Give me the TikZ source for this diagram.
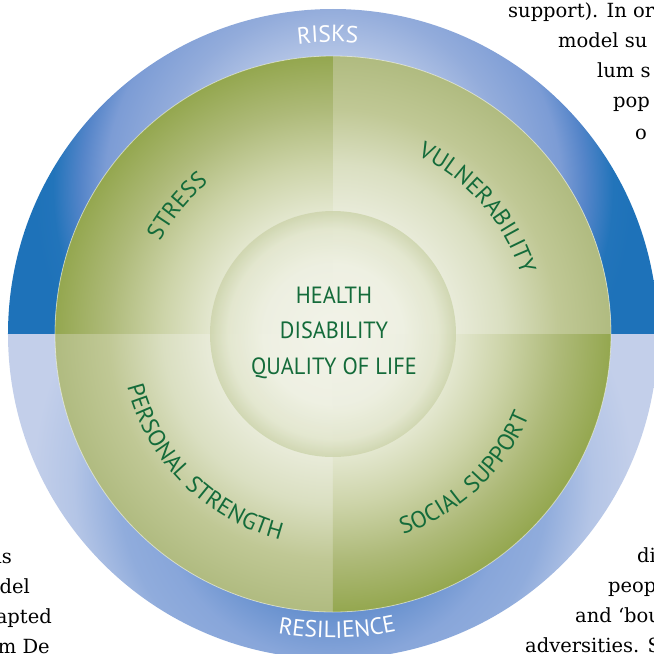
\documentclass[tikz,border=0pt]{standalone}
\usepackage{fontspec}
\setmainfont{DejaVu Serif}
\newfontfamily\lab{PT Sans}
\newfontfamily\labnarrow[FakeStretch=0.95]{PT Sans}
\usetikzlibrary{decorations.text}

% palette
\definecolor{labgreen}{HTML}{146B3A}
\definecolor{rA}{HTML}{B4C5E6}
\definecolor{rB}{HTML}{93ACDB}
\definecolor{rC}{HTML}{7C9CD5}
\definecolor{rD}{HTML}{5585C9}
\definecolor{rE}{HTML}{2274BA}
\definecolor{rF}{HTML}{1E72B9}
\definecolor{sA}{HTML}{5F8BCC}
\definecolor{sB}{HTML}{6690CE}
\definecolor{sC}{HTML}{88A6DA}
\definecolor{sD}{HTML}{90ACDC}
\definecolor{sE}{HTML}{B4C5E6}
\definecolor{sF}{HTML}{C3CFEA}
\definecolor{gC}{HTML}{F2F3E8}
\definecolor{dA}{HTML}{E9ECD9}
\definecolor{dB}{HTML}{CDD4A9}
\definecolor{dC}{HTML}{AEBA79}
\definecolor{dD}{HTML}{94A74F}
\definecolor{lA}{HTML}{ECEEDF}
\definecolor{lB}{HTML}{DADFC1}
\definecolor{lC}{HTML}{C0C895}
\definecolor{lD}{HTML}{B0BB80}
\definecolor{iA}{HTML}{F3F4EA}
\definecolor{iB}{HTML}{EEF0E2}
\definecolor{iC}{HTML}{E2E6CD}
\definecolor{iD}{HTML}{CDD4AC}
\definecolor{gbase}{HTML}{C8D0A0}

% ring shadings (upper: risks, lower: resilience)
\pgfdeclareradialshading{risksring}{\pgfpointorigin}{%
  color(0pt)=(rA); color(132pt)=(rA); color(180pt)=(rB); color(228pt)=(rC);
  color(252pt)=(rD); color(280pt)=(rE); color(300pt)=(rF); color(420pt)=(rF)}
\pgfdeclareradialshading{resring}{\pgfpointorigin}{%
  color(0pt)=(sA); color(132pt)=(sB); color(180pt)=(sC); color(215pt)=(sD);
  color(260pt)=(sE); color(300pt)=(sF); color(420pt)=(sF)}
% quadrant shadings
\pgfdeclareradialshading{darkq}{\pgfpointorigin}{%
  color(0pt)=(gC); color(110pt)=(dA); color(170pt)=(dB); color(225pt)=(dC);
  color(278pt)=(dD); color(300pt)=(dD)}
\pgfdeclareradialshading{lightq}{\pgfpointorigin}{%
  color(0pt)=(gC); color(110pt)=(lA); color(170pt)=(lB); color(225pt)=(lC);
  color(278pt)=(lD); color(300pt)=(lD)}
% central disc
\pgfdeclareradialshading{hub}{\pgfpointorigin}{%
  color(0pt)=(iA); color(70pt)=(iB); color(105pt)=(iC); color(123pt)=(iD);
  color(130pt)=(iD)}

\newcommand\lblstyle{\lab\fontsize{23.5}{28}\selectfont\color{labgreen}}
\newcommand\ringstyle{\lab\fontsize{23.5}{28}\selectfont\color{white}}

\tikzset{
  centertext/.style={anchor=base, inner sep=0pt, text=labgreen,
    font=\labnarrow\fontsize{23.5}{28}\selectfont},
  pagetext/.style={inner sep=0pt, text=black,
    font=\fontsize{19.5}{22}\selectfont},
  arclabel/.style={decorate, decoration={text along path, text align=center,
    text={#1}}}
}

\begin{document}
\begin{tikzpicture}[x=1pt,y=1pt]
\useasboundingbox (-333,-320) rectangle (321,334);
\clip (-333,-320) rectangle (321,334);

% outer ring, upper half
\begin{scope}
  \clip (325,0) arc[start angle=0,end angle=180,radius=325] -- cycle;
  \pgftext[at=\pgfpoint{0pt}{146pt}]{\pgfuseshading{risksring}}
\end{scope}
% outer ring, lower half
\begin{scope}
  \clip (-325,0) arc[start angle=180,end angle=360,radius=325] -- cycle;
  \pgftext[at=\pgfpoint{0pt}{-146pt}]{\pgfuseshading{resring}}
\end{scope}

% green disc and its four quadrants
\fill[gbase] (0,0) circle[radius=278];
\foreach \a/\s in {0/lightq,90/darkq,180/lightq,270/darkq}{
  \begin{scope}
    \clip (0,0) -- (\a:278) arc[start angle=\a,end angle=\a+90,radius=278] -- cycle;
    \pgftext{\pgfuseshading{\s}}
  \end{scope}
}
\draw[white, opacity=0.5, line width=0.8pt] (0,0) circle[radius=278];

% central disc
\begin{scope}[opacity=0.85]
  \clip (0,0) circle[radius=123];
  \pgftext{\pgfuseshading{hub}}
\end{scope}

% ring labels
\path[arclabel={|\ringstyle|RISKS}]
  (151:292) arc[start angle=151,end angle=31,radius=292];
\path[arclabel={|\ringstyle|RESILIENCE}]
  (-149.2:304) arc[start angle=-149.2,end angle=-29.2,radius=304];

% quadrant labels
\path[arclabel={|\lblstyle|STRESS}]
  (200.7:196) arc[start angle=200.7,end angle=80.7,radius=196];
\path[arclabel={|\lblstyle|VULNERABILITY}]
  (111:197) arc[start angle=111,end angle=-29,radius=197];
\path[arclabel={|\lblstyle|PERSONAL STRENGTH}]
  (-215:212.5) arc[start angle=-215,end angle=-55,radius=212.5];
\path[arclabel={|\lblstyle|SOCIAL SUPPORT}]
  (-126.7:212.5) arc[start angle=-126.7,end angle=33.3,radius=212.5];

% centre text
\node[centertext] (health) at (1,31) {HEALTH};
\node[centertext] (disability) at (1,-4) {DISABILITY};
\node[centertext] (qol) at (1,-40) {QUALITY OF LIFE};

% surrounding page text
\node[pagetext, anchor=base west] (p1) at (175,316) {support). In or};
\node[pagetext, anchor=base west] (p2) at (225,286) {model su};
\node[pagetext, anchor=base west] (p3) at (264,256) {lum s};
\node[pagetext, anchor=base west] (p4) at (280,226) {pop};
\node[pagetext, anchor=base west] (p5) at (302,194) {o};

\node[pagetext, anchor=base east] (q1) at (-321,-229) {is};
\node[pagetext, anchor=base east] (q2) at (-303,-259) {del};
\node[pagetext, anchor=base east] (q3) at (-281,-289) {apted};
\node[pagetext, anchor=base east] (q4) at (-283,-319) {m De};

\node[pagetext, anchor=base west] (r1) at (304,-228) {di};
\node[pagetext, anchor=base west] (r2) at (275,-258) {peop};
\node[pagetext, anchor=base west] (r3) at (242,-288) {and ‘bou};
\node[pagetext, anchor=base west] (r4) at (192,-318) {adversities. S};
\end{tikzpicture}
\end{document}
